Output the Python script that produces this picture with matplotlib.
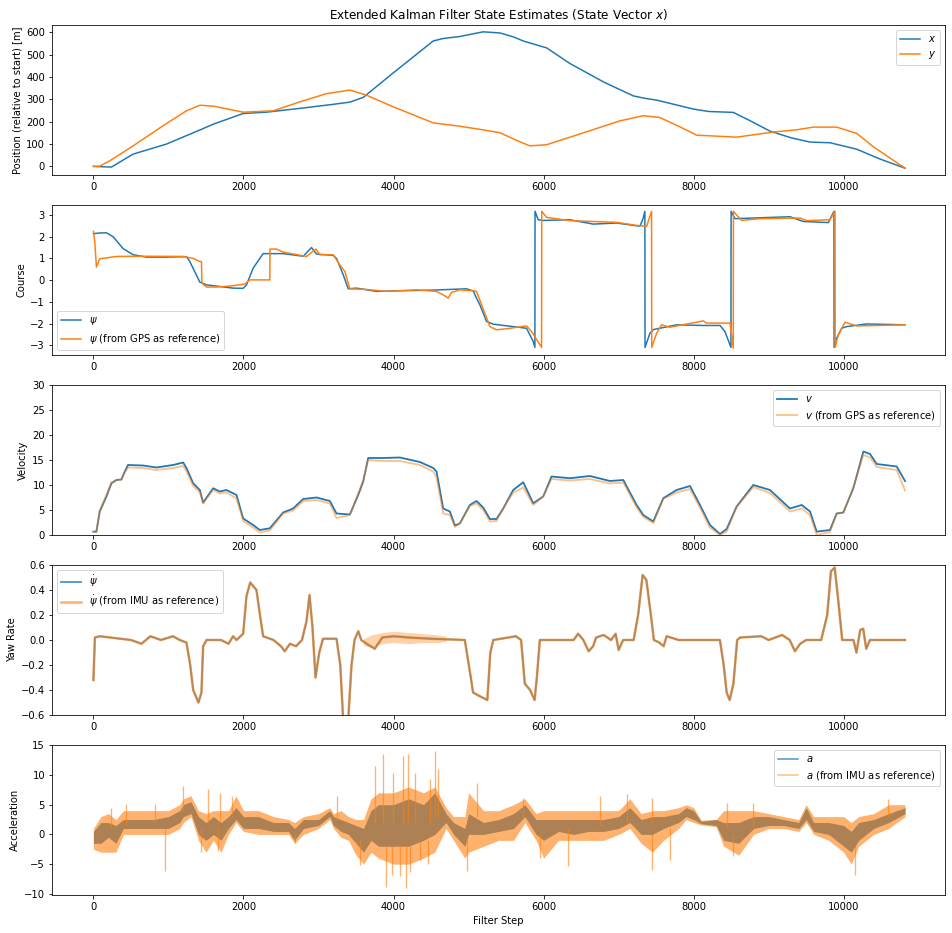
import numpy as np
import matplotlib
matplotlib.use("Agg")
import matplotlib.pyplot as plt
from matplotlib.lines import Line2D

# --- position (panel 1) ---
pos_x_steps = [0, 240, 529, 973, 1418, 1596, 1996, 2307, 2751, 3196, 3418, 3596, 3996, 4529, 4662, 4884,
               5017, 5195, 5417, 5600, 5728, 6040, 6351, 6795, 7195, 7350, 7506, 7995, 8200, 8529, 8750, 9017,
               9300, 9551, 9817, 10173, 10484, 10817]
pos_x = [0, -3, 55, 100, 163, 189, 237, 243, 260, 278, 288, 309, 419, 562, 573, 582,
         591, 603, 598, 580, 562, 531, 461, 379, 316, 305, 297, 257, 246, 242, 205, 158,
         128, 109, 106, 77, 33, -8]
pos_y_steps = [0, 84, 218, 529, 973, 1240, 1418, 1596, 1996, 2396, 2751, 3107, 3418, 3640, 3996, 4529, 4884,
               5151, 5417, 5650, 5817, 6040, 6573, 7017, 7328, 7550, 7800, 8040, 8573, 9062, 9373, 9595, 9906,
               10173, 10395, 10817]
pos_y = [0, 1, 25, 92, 192, 249, 274, 270, 243, 249, 289, 326, 342, 319, 267, 195, 180,
         166, 151, 115, 92, 97, 155, 204, 227, 219, 180, 140, 131, 154, 164, 176, 176,
         148, 88, -8]

# --- course (panel 2) ---
psi_steps = [0, 84, 173, 262, 396, 529, 707, 973, 1240, 1284,
             1418, 1507, 1862, 1996, 2040, 2129, 2262, 2529, 2796, 2907,
             2973, 3196, 3240, 3329, 3396, 3507, 3773, 4084, 4529, 4973,
             5062, 5106, 5151, 5239, 5328, 5684, 5773, 5862, 5884, 5886,
             5928, 5995, 6351, 6662, 6973, 7284, 7328, 7350, 7352, 7417,
             7462, 7773, 8128, 8351, 8417, 8497, 8499, 8551, 8795, 9284,
             9462, 9795, 9870, 9872, 9906, 9973, 10040, 10306, 10817]
psi = [2.14, 2.17, 2.18, 2.0, 1.45, 1.17, 1.06, 1.06, 1.08, 0.86,
       -0.09, -0.22, -0.37, -0.38, -0.22, 0.55, 1.22, 1.22, 1.1, 1.5,
       1.2, 1.14, 1.0, 0.25, -0.4, -0.37, -0.52, -0.49, -0.46, -0.4,
       -0.5, -0.83, -1.14, -1.9, -2.03, -2.18, -2.22, -2.83, -3.1, 3.17,
       2.78, 2.75, 2.78, 2.58, 2.63, 2.48, 2.86, 3.17, -3.1, -2.45,
       -2.28, -2.06, -2.09, -2.09, -2.37, -3.1, 3.17, 2.83, 2.86, 2.92,
       2.7, 2.65, 3.17, -3.1, -2.68, -2.22, -2.14, -2.02, -2.06]
psi_gps_steps = [0, 18, 40, 84, 307, 662, 1196, 1329, 1418, 1440,
                 1446, 1507, 1640, 1862, 2018, 2084, 2351, 2353, 2440, 2529,
                 2840, 2964, 3018, 3196, 3284, 3351, 3418, 3640, 3907, 4307,
                 4573, 4662, 4729, 4773, 4884, 5062, 5106, 5284, 5373, 5551,
                 5773, 5840, 5973, 5975, 6040, 6351, 6973, 7240, 7373, 7439,
                 7441, 7506, 7573, 7684, 8128, 8173, 8484, 8528, 8530, 8573,
                 8640, 8884, 9417, 9506, 9817, 9884, 9886, 9928, 10017, 10173,
                 10817]
psi_gps = [2.25, 1.78, 0.6, 0.98, 1.09, 1.1, 1.09, 1.0, 0.86, 0.86,
           -0.14, -0.32, -0.32, -0.26, -0.18, 0.01, 0.01, 1.43, 1.43, 1.29,
           1.09, 1.43, 1.17, 1.17, 0.7, 0.4, -0.4, -0.43, -0.52, -0.45,
           -0.52, -0.68, -0.83, -0.57, -0.45, -0.49, -0.52, -2.14, -2.29, -2.22,
           -2.11, -2.37, -3.1, 3.17, 2.89, 2.74, 2.66, 2.52, 2.48, 3.17,
           -3.1, -2.45, -2.06, -2.17, -1.88, -1.98, -1.98, -3.14, 3.17, 3.0,
           2.75, 2.83, 2.86, 2.74, 2.78, 3.17, -3.1, -2.52, -1.94, -2.11,
           -2.06]

# --- velocity (panel 3) ---
v_steps = [0, 40, 84, 173, 240, 307, 373, 418, 462, 662,
           840, 1062, 1196, 1240, 1329, 1418, 1462, 1596, 1684, 1773,
           1907, 1996, 2129, 2218, 2351, 2529, 2662, 2796, 2973, 3151,
           3240, 3418, 3529, 3596, 3662, 3862, 4084, 4351, 4529, 4573,
           4662, 4751, 4818, 4884, 5017, 5106, 5195, 5284, 5373, 5462,
           5595, 5728, 5862, 5995, 6106, 6351, 6617, 6884, 7062, 7240,
           7328, 7462, 7595, 7773, 7951, 8084, 8217, 8351, 8440, 8573,
           8795, 9017, 9284, 9440, 9551, 9640, 9817, 9906, 9995, 10128,
           10262, 10351, 10440, 10706, 10817]
v = [0.67, 0.67, 4.7, 7.7, 10.35, 11.0, 11.1, 12.7, 14.0, 13.9,
     13.5, 14.0, 14.5, 13.4, 10.35, 9.0, 6.5, 9.35, 8.7, 9.0,
     8.0, 3.3, 2.0, 1.0, 1.34, 4.5, 5.3, 7.2, 7.5, 6.8,
     4.3, 4.1, 8.0, 10.7, 15.4, 15.4, 15.5, 14.6, 13.4, 12.7,
     5.3, 4.7, 1.9, 2.3, 6.0, 6.8, 5.5, 3.2, 3.2, 5.3,
     9.0, 10.55, 6.35, 7.7, 11.7, 11.35, 11.8, 10.8, 11.0, 6.0,
     4.0, 2.7, 7.35, 9.0, 9.8, 6.0, 2.0, 0.2, 1.2, 5.7,
     10.0, 9.0, 5.3, 6.0, 4.7, 0.67, 1.0, 4.3, 4.5, 9.35,
     16.7, 16.2, 14.2, 13.7, 10.8]
v_gps = [0.67, 0.67, 4.9, 8.0, 10.5, 11.0, 11.1, 12.5, 13.5, 13.4,
         13.0, 13.4, 13.8, 12.8, 9.8, 8.5, 6.3, 9.0, 8.3, 8.5,
         7.3, 2.8, 1.5, 0.5, 0.9, 4.3, 4.9, 6.8, 7.0, 6.3,
         3.4, 4.0, 8.3, 11.0, 15.0, 14.8, 14.8, 14.0, 12.7, 11.5,
         4.3, 4.0, 1.6, 2.3, 5.8, 6.3, 5.0, 2.7, 2.8, 5.3,
         8.5, 9.5, 6.0, 7.7, 11.2, 10.9, 11.2, 10.3, 10.5, 5.5,
         3.6, 2.4, 7.2, 8.5, 9.2, 5.5, 1.5, 0.0, 0.7, 5.6,
         9.6, 8.4, 4.7, 5.3, 4.0, 0.0, 0.6, 4.2, 4.5, 9.5,
         16.0, 15.5, 13.6, 13.0, 8.9]

# --- yaw rate (panel 4) ---
yaw_steps = [0, 20, 84, 500, 640, 760, 900, 1060, 1150, 1240,
             1290, 1330, 1400, 1440, 1462, 1507, 1700, 1800, 1862, 1907,
             1996, 2040, 2090, 2173, 2220, 2262, 2400, 2500, 2550, 2620,
             2700, 2780, 2840, 2880, 2920, 2960, 3010, 3060, 3240, 3290,
             3330, 3365, 3400, 3440, 3480, 3530, 3570, 3640, 3750, 3850,
             4000, 4200, 4500, 4950, 5030, 5060, 5150, 5250, 5290, 5330,
             5630, 5700, 5750, 5820, 5880, 5910, 5950, 6400, 6460, 6530,
             6600, 6660, 6700, 6800, 6900, 6960, 7000, 7060, 7200, 7260,
             7320, 7370, 7430, 7470, 7540, 7600, 7640, 7800, 8350, 8400,
             8440, 8480, 8530, 8580, 8620, 8900, 9000, 9180, 9280, 9350,
             9420, 9500, 9700, 9780, 9830, 9880, 9930, 9980, 10130, 10170,
             10220, 10260, 10300, 10350, 10817]
yaw = [-0.32, 0.02, 0.03, 0.0, -0.03, 0.03, 0.0, 0.03, 0.0, -0.02,
       -0.2, -0.4, -0.5, -0.42, -0.05, 0.0, 0.0, -0.03, 0.03, 0.0,
       0.05, 0.35, 0.46, 0.4, 0.2, 0.03, 0.0, -0.05, -0.09, -0.03,
       -0.05, 0.0, 0.15, 0.36, 0.1, -0.3, -0.1, 0.01, 0.01, -0.2,
       -0.65, -0.78, -0.6, -0.2, 0.0, 0.07, 0.0, -0.03, -0.07, 0.02,
       0.03, 0.02, 0.01, 0.0, -0.3, -0.42, -0.45, -0.48, -0.1, 0.0,
       0.03, 0.0, -0.35, -0.4, -0.48, -0.3, 0.0, 0.0, 0.05, 0.0,
       -0.09, -0.05, 0.02, 0.04, 0.0, 0.05, -0.08, 0.0, 0.0, 0.2,
       0.52, 0.48, 0.2, 0.0, -0.02, -0.05, 0.03, 0.0, 0.0, -0.2,
       -0.42, -0.48, -0.35, 0.0, 0.02, 0.03, 0.0, 0.04, 0.0, -0.09,
       -0.03, 0.0, 0.0, 0.2, 0.55, 0.58, 0.3, 0.0, 0.0, -0.1,
       0.08, 0.09, -0.07, 0.0, 0.0]
# noisier stretch of the IMU yaw rate
yaw_noise_steps = [3600, 3700, 3850, 4000, 4200, 4400, 4600, 4700]
yaw_noise_lo = [-0.04, -0.06, -0.03, -0.02, -0.03, -0.02, -0.02, -0.01]
yaw_noise_hi = [0.01, 0.04, 0.06, 0.07, 0.06, 0.05, 0.04, 0.03]

# --- acceleration (panel 5), noise envelopes ---
acc_steps = [0, 100, 200, 300, 400, 600, 800, 1000, 1150, 1200,
             1300, 1400, 1500, 1600, 1700, 1800, 1900, 2000, 2200, 2400,
             2600, 2680, 2800, 3000, 3150, 3200, 3300, 3400, 3500, 3600,
             3700, 3800, 4000, 4200, 4400, 4550, 4700, 4800, 4950, 5000,
             5200, 5400, 5600, 5750, 5900, 6000, 6200, 6400, 6600, 6800,
             7000, 7150, 7300, 7450, 7600, 7800, 7900, 8000, 8100, 8300,
             8400, 8600, 8800, 9000, 9200, 9400, 9500, 9600, 9800, 10000,
             10100, 10200, 10400, 10600, 10817]
a_lo = [-1.5, -1.5, -0.5, -1.5, 1, 1, 1, 1, 2, 3,
        3.5, 0, -1, 0, -1, 1, 2.5, 1, 1, 0.5,
        0.5, -1, 1, 1.5, 3, 1.5, 0.5, 0, -1.5, -3,
        -1, -2, -2, -2, -1, 0, 2, 0, -2, 0,
        0, 0.5, 1, 3, 0, -1, 0.5, 0, 0.5, 0.5,
        1, 2, 0, 0, 1, 2, 3, 2.5, 1.8, 1.5,
        -1, -1.5, 1, 1.5, 1.5, 1, 2.5, 0.5, 0, -2,
        -3, -1, 1, 2, 3.5]
a_hi = [0.5, 2, 2, 1.5, 2.5, 2.5, 2.5, 3, 4, 5,
        5.5, 3, 2, 3, 2, 3, 4.5, 3, 3, 2,
        2, 1, 2.5, 2.5, 4, 3, 2.5, 2, 1.5, 1,
        4, 5, 5, 6, 5, 7, 3.5, 2, 1, 3.5,
        2, 2.5, 3.5, 5, 2.5, 2.5, 2.5, 2.5, 2.5, 2.5,
        3, 4.5, 2.5, 3, 3, 3.5, 4.5, 4, 2.2, 2.5,
        2, 2, 3, 3, 2.5, 2, 4.5, 2, 2, 1.5,
        0.5, 2, 2.5, 3.5, 4.5]
a_imu_lo = [-2.5, -3, -3, -3, 0, 0, 0, 0, 1, 2,
            3, -1, -3, -1, -3, 0, 2, 0.5, 0, 0,
            0, -1.5, 0, 1, 2.5, 1, -0.5, -1, -3.5, -5,
            -3, -4, -5, -5, -4, -3, 1, -1, -4, -3,
            -2, -1, -1, 2, -1, -4, -1, -1, -1, -1,
            0, 1, -1.5, -3, -1, 1, 2.5, 2, 1.6, 1.3,
            -2, -3.5, 0, 1, 1, 0.5, 2, 0, -1, -3,
            -5, -2, 0, 1, 3]
a_imu_hi = [1, 3, 3.5, 2.5, 4, 4, 4, 4, 5, 6,
            6.5, 4, 3.5, 4, 4, 4, 6.5, 4, 4, 3,
            2.5, 2, 3, 3.5, 4.5, 3.5, 4, 3, 2.5, 2.5,
            6, 7, 7, 8, 7, 8, 4.5, 3, 3, 7,
            4, 4, 5, 6, 3.5, 4, 4, 4, 4, 4,
            4, 6, 3.5, 4, 4, 4.5, 5, 4.5, 2.4, 2.5,
            4, 4, 4, 3.5, 3, 2.5, 5, 3, 3, 3,
            2, 3, 3.5, 5, 5]
# single-sample outliers of the IMU acceleration
spike_steps = [240, 431, 818, 951, 1196, 1440, 1529, 1662, 1684, 1849,
               2684, 3253, 3551, 3751, 3862, 3897, 3973, 3996, 4084, 4128,
               4164, 4195, 4217, 4284, 4351, 4462, 4484, 4551, 4595, 4973,
               5106, 5728, 5951, 6328, 6751, 7106, 7439, 7450, 7684, 8440,
               8528, 8795, 10151, 10595]
spike_base = [1, 1.5, 1.5, 1, 4, 1, 2, 1, 2, 3,
              0, 2.5, -1, 2, 2, -2, -2, 2, -2, 2,
              -2, 2, -2, 2, -1, -1, 2, 3, 3, -1,
              3, 3, 0, 1, 1.5, 2, 2, 0, 1, 1,
              0, 1, -2, 3]
spike_tip = [4.5, 5.2, 5.2, -6.2, 8.1, -2.9, 7.6, -2.8, 7.0, 6.4,
             -1.4, 6.4, -5.1, 11.5, 13.5, -8.8, -6.8, 10.4, -7.0, 13.2,
             -9.0, 13.5, -6.4, 10.4, -4.3, -5.0, 9.3, 14.0, 11.0, -6.2,
             8.7, 6.2, -3.9, -5.4, 6.4, 6.8, 6.1, -6.0, -4.3, 5.3,
             -3.7, 5.3, -6.8, 5.9]

BLUE = "tab:blue"
ORANGE = "tab:orange"

fig, axes = plt.subplots(5, 1, figsize=(952 / 72, 933 / 72), dpi=72)
fig.subplots_adjust(left=52 / 952, right=945 / 952, top=1 - 25 / 933, bottom=1 - 895 / 933, hspace=0.2)

# Position
ax = axes[0]
ax.plot(pos_x_steps, pos_x, color=BLUE, label=r"$x$")
ax.plot(pos_y_steps, pos_y, color=ORANGE, label=r"$y$")
ax.set_ylabel("Position (relative to start) [m]")
ax.set_title(r"Extended Kalman Filter State Estimates (State Vector $x$)")
ax.legend(loc="upper right")

# Course
ax = axes[1]
ax.plot(psi_steps, psi, color=BLUE, label=r"$\psi$")
ax.plot(psi_gps_steps, psi_gps, color=ORANGE, label=r"$\psi$ (from GPS as reference)")
ax.set_ylabel("Course")
ax.set_ylim(-3.45, 3.46)
ax.set_yticks([-3, -2, -1, 0, 1, 2, 3])
ax.legend(loc="lower left")

# Velocity
ax = axes[2]
ax.plot(v_steps, v, color=BLUE, lw=1.8, label=r"$v$")
ax.plot(v_steps, v_gps, color=ORANGE, lw=1.8, alpha=0.5, label=r"$v$ (from GPS as reference)")
ax.set_ylabel("Velocity")
ax.set_ylim(0, 30)
ax.legend(loc="upper right")

# Yaw rate
ax = axes[3]
ax.plot(yaw_steps, yaw, color=BLUE, lw=1.8, alpha=0.8, label=r"$\dot \psi$")
ax.plot(yaw_steps, yaw, color=ORANGE, lw=2.6, alpha=0.6, label=r"$\dot \psi$ (from IMU as reference)")
ax.fill_between(yaw_noise_steps, yaw_noise_lo, yaw_noise_hi, color=ORANGE, alpha=0.35, lw=0)
ax.set_ylabel("Yaw Rate")
ax.set_ylim(-0.6, 0.6)
ax.legend(loc="upper left")

# Acceleration
ax = axes[4]
ax.fill_between(acc_steps, a_lo, a_hi, color=BLUE, alpha=0.9, lw=0)
ax.fill_between(acc_steps, a_imu_lo, a_imu_hi, color=ORANGE, alpha=0.6, lw=0)
ax.vlines(spike_steps, spike_base, spike_tip, color=ORANGE, alpha=0.6, lw=1.3)
handles = [Line2D([], [], color=BLUE, alpha=0.8, lw=1.5),
           Line2D([], [], color=ORANGE, alpha=0.5, lw=1.5)]
ax.legend(handles, [r"$a$", r"$a$ (from IMU as reference)"], loc="upper right")
ax.set_ylabel("Acceleration")
ax.set_ylim(-10.2, 15.05)
ax.set_xlabel("Filter Step")

for ax in axes:
    ax.set_xlim(-552, 11350)
    ax.set_xticks([0, 2000, 4000, 6000, 8000, 10000])

fig.savefig("out.png", dpi=72)
